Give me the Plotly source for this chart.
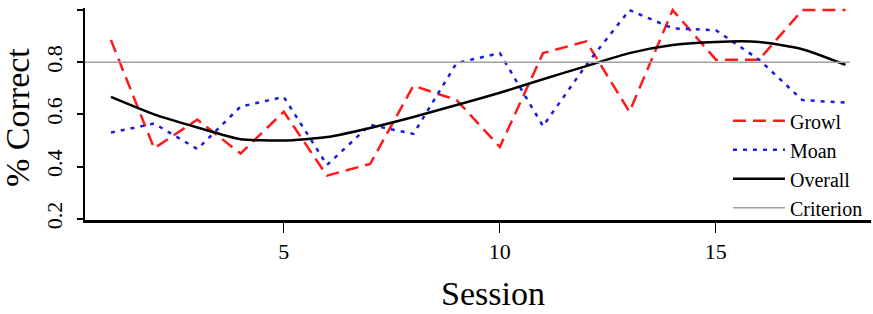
import plotly.graph_objects as go

sessions = list(range(1, 19))
growl = [0.885, 0.47, 0.58, 0.45, 0.61, 0.365, 0.41, 0.71, 0.655, 0.475,
         0.835, 0.88, 0.61, 1.0, 0.81, 0.81, 1.0, 1.0]
moan = [0.53, 0.565, 0.467, 0.63, 0.667, 0.406, 0.56, 0.525, 0.797, 0.835,
        0.555, 0.79, 1.0, 0.93, 0.923, 0.81, 0.655, 0.645]
overall = [0.667, 0.6, 0.55, 0.505, 0.50, 0.513, 0.548, 0.59, 0.636, 0.683,
           0.735, 0.785, 0.835, 0.866, 0.878, 0.878, 0.85, 0.79]
criterion_value = 0.8
criterion_x = [0.4, 18.1]
y_ticks = [0.2, 0.4, 0.6, 0.8, 1.0]
y_tick_labels = ["0.2", "0.4", "0.6", "0.8", "1.0"]
x_ticks = [5, 10, 15]

FONT = "Liberation Serif, Times New Roman, serif"

fig = go.Figure()
fig.add_trace(go.Scatter(x=sessions, y=growl, mode="lines", name="Growl",
                         line=dict(color="#ff1a1a", width=2.5, dash="13px,7px")))
fig.add_trace(go.Scatter(x=sessions, y=moan, mode="lines", name="Moan",
                         line=dict(color="#1a1ae0", width=2.5, dash="4px,6px")))
fig.add_trace(go.Scatter(x=sessions, y=overall, mode="lines", name="Overall",
                         line=dict(color="black", width=2.5, shape="spline", smoothing=0.6)))
fig.add_trace(go.Scatter(x=criterion_x, y=[criterion_value] * len(criterion_x), mode="lines",
                         name="Criterion", line=dict(color="#a0a0a0", width=1.5)))

fig.update_layout(
    width=873, height=314,
    margin=dict(l=85, r=2, t=8, b=94),
    paper_bgcolor="white", plot_bgcolor="white",
    font=dict(family=FONT, color="black", size=22),
    showlegend=True,
    legend=dict(x=0.818, y=0.56, xanchor="left", yanchor="top",
                bgcolor="rgba(0,0,0,0)", font=dict(size=20, family=FONT),
                itemwidth=52, tracegroupgap=0),
)
fig.update_xaxes(range=[0.4, 18.59], showgrid=False, zeroline=False,
                 showline=True, linewidth=3, linecolor="black",
                 ticks="outside", ticklen=10, tickwidth=1, tickcolor="black",
                 tickvals=x_ticks, tickfont=dict(size=22, family=FONT),
                 ticklabelstandoff=0)
fig.update_yaxes(range=[0.195, 1.008], showgrid=False, zeroline=False,
                 showline=True, linewidth=1.5, linecolor="black",
                 ticks="outside", ticklen=6, tickwidth=1.5, tickcolor="black",
                 tickvals=y_ticks, ticktext=y_tick_labels, tickangle=-90,
                 tickfont=dict(size=22, family=FONT), ticklabelstandoff=6)

fig.add_annotation(text="Session", xref="paper", yref="paper",
                   x=(493 - 85) / 786, y=-(293 - 220) / 212,
                   xanchor="center", yanchor="middle", showarrow=False,
                   font=dict(size=34, family=FONT))
fig.add_annotation(text="% Correct", xref="paper", yref="paper",
                   x=(17 - 85) / 786, y=(220 - 118) / 212, textangle=-90,
                   xanchor="center", yanchor="middle", showarrow=False,
                   font=dict(size=34, family=FONT))

fig.write_html("out.html")
